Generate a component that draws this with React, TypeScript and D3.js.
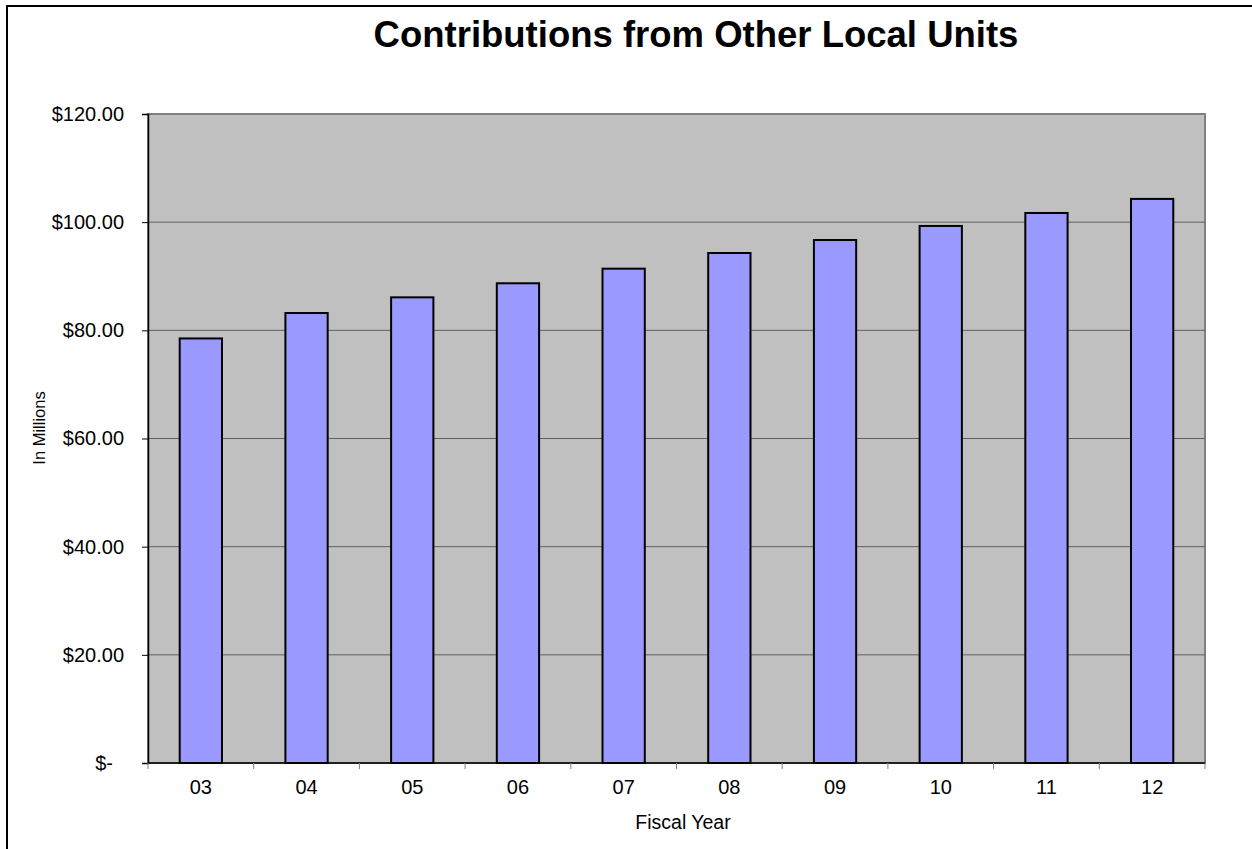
import React, { useEffect, useRef } from 'react';
import * as d3 from 'd3';

const years = ['03', '04', '05', '06', '07', '08', '09', '10', '11', '12'];
const contributions = [78.5, 83.2, 86.1, 88.7, 91.4, 94.3, 96.7, 99.3, 101.7, 104.3];
const yTicks = [0, 20, 40, 60, 80, 100, 120];

const fmt = (v: number) => (v === 0 ? '$-' : `$${v.toFixed(2)}`);

const App: React.FC = () => {
  const svgRef = useRef<SVGSVGElement | null>(null);

  useEffect(() => {
    if (!svgRef.current) return;
    const svg = d3.select(svgRef.current);
    svg.selectAll('*').remove();

    const width = 1252;
    const height = 849;
    const left = 148;
    const right = 1205;
    const top = 114;
    const bottom = 763;
    const font = 'Arial, "Liberation Sans", sans-serif';

    // chart frame (only top/left edges fall inside the picture)
    svg
      .append('rect')
      .attr('x', 7)
      .attr('y', 6)
      .attr('width', width + 20)
      .attr('height', height + 20)
      .attr('fill', '#fff')
      .attr('stroke', '#000')
      .attr('stroke-width', 2);

    const x = d3.scaleBand().domain(years).range([left, right]).paddingInner(0.6).paddingOuter(0.3);
    const xb = d3.scaleBand().domain(years).range([left, right]);
    const y = d3.scaleLinear().domain([0, 120]).range([bottom, top]);

    // plot area
    svg
      .append('rect')
      .attr('x', left)
      .attr('y', top)
      .attr('width', right - left)
      .attr('height', bottom - top)
      .attr('fill', '#c0c0c0')
      .attr('stroke', '#808080')
      .attr('stroke-width', 2);

    // gridlines
    svg
      .append('g')
      .selectAll('line')
      .data(yTicks.filter((t) => t > 0 && t < 120))
      .enter()
      .append('line')
      .attr('x1', left)
      .attr('x2', right)
      .attr('y1', (d) => y(d))
      .attr('y2', (d) => y(d))
      .attr('stroke', '#606060')
      .attr('stroke-width', 1);

    // bars
    svg
      .append('g')
      .selectAll('rect')
      .data(contributions)
      .enter()
      .append('rect')
      .attr('x', (_, i) => x(years[i])!)
      .attr('y', (d) => y(d))
      .attr('width', x.bandwidth())
      .attr('height', (d) => y(0) - y(d))
      .attr('fill', '#9999ff')
      .attr('stroke', '#000')
      .attr('stroke-width', 2);

    // y axis
    const yAxis = d3
      .axisLeft(y)
      .tickValues(yTicks)
      .tickSize(6)
      .tickPadding(18)
      .tickFormat((d) => fmt(d as number));
    const gy = svg.append('g').attr('transform', `translate(${left},0)`).call(yAxis);
    gy.select('.domain').attr('stroke', '#000').attr('stroke-width', 1.5);
    gy.selectAll('.tick line').attr('stroke', '#000');
    gy.selectAll('text')
      .attr('font-family', font)
      .attr('font-size', 20)
      .attr('fill', '#000')
      .attr('dx', (d) => ((d as number) === 0 ? -11 : 0));

    // x axis
    const gx = svg.append('g').attr('transform', `translate(0,${bottom})`);
    gx.append('line').attr('x1', left).attr('x2', right).attr('stroke', '#000').attr('stroke-width', 1.5);
    gx.selectAll('line.tk')
      .data([...years.map((d) => xb(d)!), right])
      .enter()
      .append('line')
      .attr('class', 'tk')
      .attr('x1', (d) => d)
      .attr('x2', (d) => d)
      .attr('y1', 0)
      .attr('y2', 6)
      .attr('stroke', '#808080');
    gx.selectAll('text')
      .data(years)
      .enter()
      .append('text')
      .attr('x', (d) => xb(d)! + xb.bandwidth() / 2)
      .attr('y', 31)
      .attr('text-anchor', 'middle')
      .attr('font-family', font)
      .attr('font-size', 20)
      .text((d) => d);

    // titles
    svg
      .append('text')
      .attr('x', 696)
      .attr('y', 47)
      .attr('text-anchor', 'middle')
      .attr('font-family', font)
      .attr('font-weight', 'bold')
      .attr('font-size', 36.5)
      .text('Contributions from Other Local Units');

    svg
      .append('text')
      .attr('x', 683)
      .attr('y', 829)
      .attr('text-anchor', 'middle')
      .attr('font-family', font)
      .attr('font-size', 19.5)
      .text('Fiscal Year');

    svg
      .append('text')
      .attr('transform', 'translate(45,428) rotate(-90)')
      .attr('text-anchor', 'middle')
      .attr('font-family', font)
      .attr('font-size', 16.5)
      .text('In Millions');
  }, []);

  return (
    <svg
      ref={svgRef}
      width={1252}
      height={849}
      style={{ position: 'absolute', left: 0, top: 0, background: '#fff' }}
    />
  );
};

export default App;
